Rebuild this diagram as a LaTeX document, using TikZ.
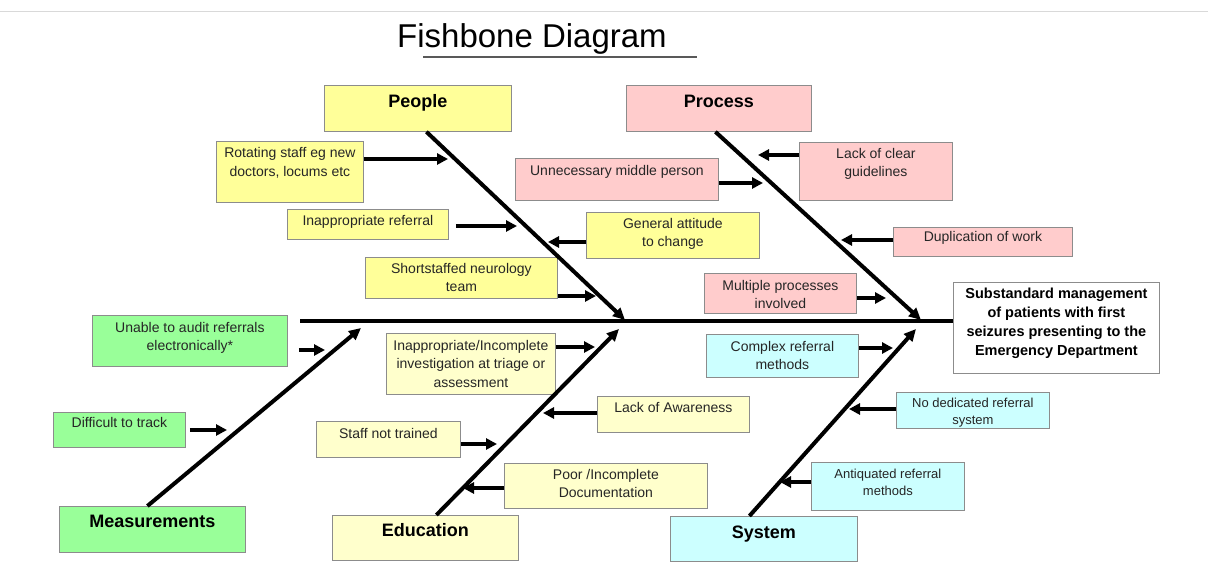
\documentclass[tikz,border=0pt]{standalone}
\usepackage{fontspec}
\setmainfont{Liberation Sans}
\usetikzlibrary{positioning,arrows.meta}
\definecolor{yel}{HTML}{FFFF99}
\definecolor{paleyel}{HTML}{FFFFCC}
\definecolor{pinkish}{HTML}{FFCCCC}
\definecolor{lgreen}{HTML}{99FF99}
\definecolor{lcyan}{HTML}{CCFFFF}
\definecolor{edge}{HTML}{8C8C8C}

\begin{document}
\begin{tikzpicture}[x=1pt, y=-1pt,
    box/.style = {draw=edge, line width=0.8pt, fill=#1, anchor=north west, inner sep=0pt},
    txt/.style = {anchor=north, align=center, inner sep=0pt, yshift=-#1,
        font=\fontsize{14}{18.5}\selectfont, text=black!85},
    txt/.default = 6.5,
    small/.style = {anchor=north, align=center, inner sep=0pt, yshift=-#1,
        font=\fontsize{13}{17}\selectfont, text=black!85},
    small/.default = 5.5,
    head/.style = {anchor=north, inner sep=0pt, yshift=-#1,
        font=\fontsize{18}{20}\selectfont\bfseries},
    head/.default = 9,
    bone/.style = {line width=4pt, -{Triangle[length=12pt,width=11pt]}},
    arr/.style = {line width=3.5pt, -{Triangle[length=11pt,width=11pt]}},
    spine/.style = {line width=4.5pt}
    ]
    \useasboundingbox (0,0) rectangle (1208,569);
    \draw[black!15, line width=1pt] (0,11.5) -- (1208,11.5);

    % title
    \node[anchor=base, inner sep=0pt, font=\fontsize{33}{36}\selectfont] (title) at (532,48) {Fishbone Diagram};
    \draw[black!65, line width=1.2pt] (423,57) -- (697,57);

    % categories
    \node[box=yel, minimum width=187, minimum height=46, label={[head]north:People}] (people) at (324,85) {};
    \node[box=pinkish, minimum width=185, minimum height=46, label={[head=10]north:Process}] (process) at (626,85) {};
    \node[box=lgreen, minimum width=186, minimum height=46, label={[head=9]north:Measurements}] (meas) at (59,506) {};
    \node[box=paleyel, minimum width=186, minimum height=45, label={[head=8.5]north:Education}] (edu) at (332,515) {};
    \node[box=lcyan, minimum width=187, minimum height=45, label={[head=10]north:System}] (sys) at (670,516) {};

    % effect
    \node[box=white, minimum width=206, minimum height=91,
        label={[anchor=north, align=center, inner sep=0pt, yshift=-5.5,
        font=\fontsize{14.5}{19.2}\selectfont\bfseries]north:{Substandard management\\of patients with first\\seizures presenting to the\\Emergency Department}}] (subst) at (953,282) {};

    % people causes
    \node[box=yel, minimum width=147, minimum height=61, label={[txt]north:{Rotating staff eg new\\doctors, locums etc}}] (rot) at (216,141) {};
    \node[box=yel, minimum width=161, minimum height=30, label={[txt=6]north:{Inappropriate referral}}] (inref) at (287,209) {};
    \node[box=yel, minimum width=192, minimum height=41, label={[txt=6]north:{Shortstaffed neurology\\team}}] (short) at (365,257) {};
    \node[box=yel, minimum width=173, minimum height=46, label={[txt=6]north:{General attitude\\to change}}] (gen) at (586,212) {};

    % process causes
    \node[box=pinkish, minimum width=203, minimum height=42, label={[txt=7]north:{Unnecessary middle person}}] (unn) at (515,158) {};
    \node[box=pinkish, minimum width=153, minimum height=58, label={[txt=6]north:{Lack of clear\\guidelines}}] (lack) at (799,142) {};
    \node[box=pinkish, minimum width=179, minimum height=29, label={[txt=4]north:{Duplication of work}}] (dup) at (893,227) {};
    \node[box=pinkish, minimum width=152, minimum height=40, label={[txt=7]north:{Multiple processes\\involved}}] (multi) at (704,273) {};

    % measurement causes
    \node[box=lgreen, minimum width=195, minimum height=51, label={[txt=7]north:{Unable to audit referrals\\electronically*}}] (unable) at (92,315) {};
    \node[box=lgreen, minimum width=132, minimum height=35, label={[txt=5]north:{Difficult to track}}] (diff) at (53,412) {};

    % education causes
    \node[box=paleyel, minimum width=169, minimum height=61, label={[txt=7]north:{Inappropriate/Incomplete\\investigation at triage or\\assessment}}] (inv) at (386,333) {};
    \node[box=paleyel, minimum width=152, minimum height=36, label={[txt=6]north:{Lack of Awareness}}] (aware) at (597,396) {};
    \node[box=paleyel, minimum width=144, minimum height=36, label={[txt=7]north:{Staff not trained}}] (staff) at (316,421) {};
    \node[box=paleyel, minimum width=203, minimum height=45, label={[txt=6]north:{Poor /Incomplete\\Documentation}}] (poor) at (504,463) {};

    % system causes
    \node[box=lcyan, minimum width=152, minimum height=43, label={[txt=7]north:{Complex referral\\methods}}] (complex) at (706,334) {};
    \node[box=lcyan, minimum width=153, minimum height=36, label={[small]north:{No dedicated referral\\system}}] (nodedic) at (896,392) {};
    \node[box=lcyan, minimum width=153, minimum height=48, label={[small=6.5]north:{Antiquated referral\\methods}}] (antiq) at (811,462) {};

    % spine and bones
    \coordinate (spineL) at (300,321);
    \draw[spine] (spineL) -- (spineL -| subst.west);
    \coordinate (pTip) at (625,320);
    \coordinate (prTip) at (921,320);
    \coordinate (mTip) at (361,328);
    \coordinate (eTip) at (619,329);
    \coordinate (sTip) at (916,329);
    \draw[bone] ([xshift=8.5]people.south) -- (pTip);
    \draw[bone] ([xshift=-3.5]process.south) -- (prTip);
    \draw[bone] ([xshift=-5]meas.north) -- (mTip);
    \draw[bone] ([xshift=11]edu.north) -- (eTip);
    \draw[bone] ([xshift=-14.5]sys.north) -- (sTip);

    % cause arrows
    \coordinate (a1) at (448,159);
    \coordinate (a2) at (517,226);
    \coordinate (a3) at (596,296);
    \coordinate (a4) at (548,242);
    \coordinate (a5) at (763,183);
    \coordinate (a6) at (758,155);
    \coordinate (a7) at (841,240);
    \coordinate (a8) at (886,298);
    \coordinate (a9) at (325,350);
    \coordinate (a10) at (227,430);
    \coordinate (a11) at (595,347);
    \coordinate (a12) at (543,413);
    \coordinate (a13) at (497,444);
    \coordinate (a14) at (463,488);
    \coordinate (a15) at (893,348);
    \coordinate (a16) at (849,409);
    \coordinate (a17) at (780,482);
    \draw[arr] (rot.east |- a1) -- (a1);
    \draw[arr, shorten <=7pt] (inref.east |- a2) -- (a2);
    \draw[arr] (short.east |- a3) -- (a3);
    \draw[arr] (gen.west |- a4) -- (a4);
    \draw[arr] (unn.east |- a5) -- (a5);
    \draw[arr] (lack.west |- a6) -- (a6);
    \draw[arr] (dup.west |- a7) -- (a7);
    \draw[arr] (multi.east |- a8) -- (a8);
    \draw[arr, shorten <=11pt] (unable.east |- a9) -- (a9);
    \draw[arr, shorten <=4pt] (diff.east |- a10) -- (a10);
    \draw[arr] (inv.east |- a11) -- (a11);
    \draw[arr] (aware.west |- a12) -- (a12);
    \draw[arr] (staff.east |- a13) -- (a13);
    \draw[arr] (poor.west |- a14) -- (a14);
    \draw[arr] (complex.east |- a15) -- (a15);
    \draw[arr] (nodedic.west |- a16) -- (a16);
    \draw[arr] (antiq.west |- a17) -- (a17);
\end{tikzpicture}
\end{document}
